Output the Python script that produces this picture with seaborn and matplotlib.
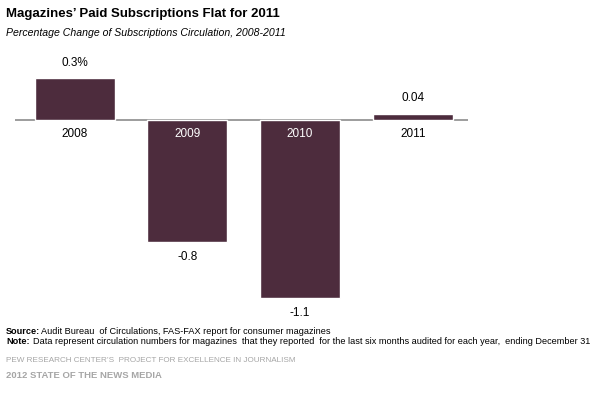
import matplotlib
matplotlib.use("Agg")
import matplotlib.pyplot as plt
import seaborn as sns
import pandas as pd

# data
years = ["2008", "2009", "2010", "2011"]
values = [0.26, -0.76, -1.11, 0.04]
value_labels = ["0.3%", "-0.8", "-1.1", "0.04"]

df = pd.DataFrame({"year": years, "value": values})

sns.set_style("white")
plt.rcParams["font.family"] = ["Liberation Sans", "DejaVu Sans"]
plt.rcParams["text.color"] = "black"

bar_color = "#4d2c3d"
fig = plt.figure(figsize=(5.97, 3.95), dpi=100)
ax = fig.add_axes([15 / 597, 1 - 305 / 395, 453 / 597, 245 / 395])

sns.barplot(data=df, x="year", y="value", color=bar_color, width=0.71,
            saturation=1, ax=ax)
ax.set_xlim(-0.53, 3.49)
ax.set_ylim(-1.156, 0.375)
ax.axhline(0, color="#8c8c8c", lw=1.2, zorder=0)

for i, (v, lab, yr) in enumerate(zip(values, value_labels, years)):
    if v >= 0:
        ax.annotate(lab, (i, v), xytext=(0, 7), textcoords="offset points",
                    ha="center", va="bottom", fontsize=8.5)
        ax.annotate(yr, (i, 0), xytext=(0, -6), textcoords="offset points",
                    ha="center", va="top", fontsize=8.5)
    else:
        ax.annotate(lab, (i, v), xytext=(0, -7), textcoords="offset points",
                    ha="center", va="top", fontsize=8.5)
        ax.annotate(yr, (i, 0), xytext=(0, -6), textcoords="offset points",
                    ha="center", va="top", fontsize=8.5, color="white")

ax.axis("off")

# titles and notes
fig.text(6 / 597, 1 - 14 / 395, "Magazines\u2019 Paid Subscriptions Flat for 2011",
         fontsize=9.5, fontweight="bold", va="center")
fig.text(6 / 597, 1 - 33 / 395, "Percentage Change of Subscriptions Circulation, 2008-2011",
         fontsize=7.6, style="italic", va="center")
fig.text(6 / 597, 1 - 331 / 395, "Source:", fontsize=6.6, fontweight="bold", va="center")
fig.text(41 / 597, 1 - 331 / 395, "Audit Bureau  of Circulations, FAS-FAX report for consumer magazines",
         fontsize=6.6, va="center")
fig.text(6 / 597, 1 - 342 / 395, "Note:", fontsize=6.6, fontweight="bold", va="center")
fig.text(33 / 597, 1 - 342 / 395, "Data represent circulation numbers for magazines  that they reported  for the last six months audited for each year,  ending December 31",
         fontsize=6.6, va="center")
fig.text(6 / 597, 1 - 361 / 395, "PEW RESEARCH CENTER\u2019S  PROJECT FOR EXCELLENCE IN JOURNALISM",
         fontsize=5.9, color="#a6a6a6", va="center")
fig.text(6 / 597, 1 - 375 / 395, "2012 STATE OF THE NEWS MEDIA",
         fontsize=6.8, color="#a6a6a6", fontweight="bold", va="center")

fig.savefig("out.png", dpi=100)
